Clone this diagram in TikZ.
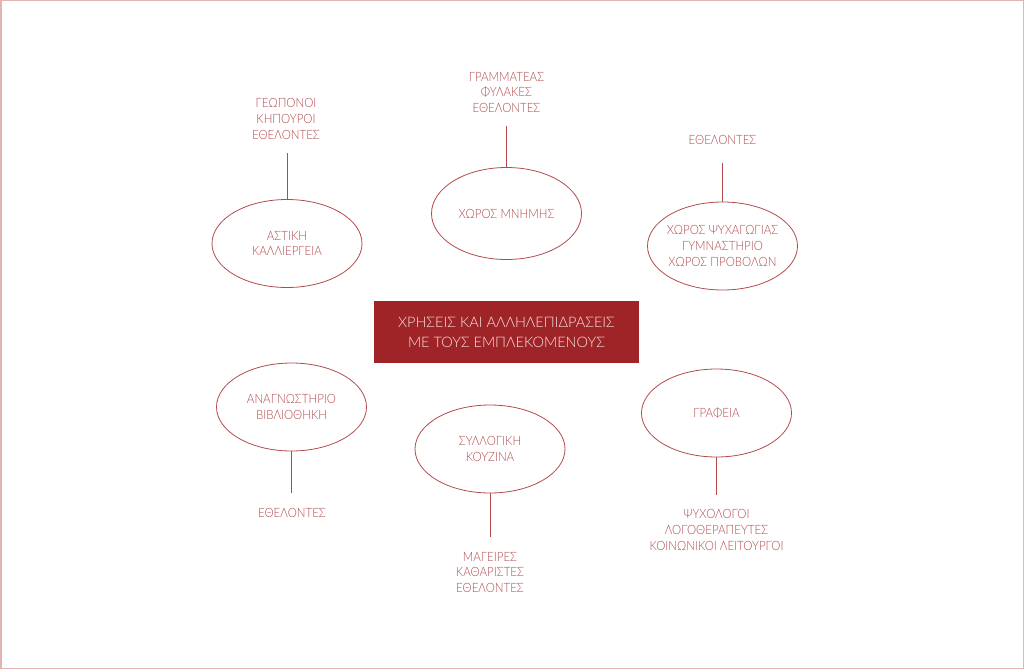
\documentclass[tikz,border=0pt]{standalone}
\usepackage{fontspec}
\setmainfont{Lato Light}[FakeStretch=0.9]
\newfontfamily\boxfont{Lato Light}
\usetikzlibrary{shapes.geometric}
\definecolor{ink}{HTML}{B24A4C}
\definecolor{boxred}{HTML}{9E2427}
\definecolor{frame}{HTML}{E2B4B4}
\definecolor{boxtext}{HTML}{F6E2E2}
\tikzset{
  ell/.style={draw=ink, line width=0.8pt, ellipse, minimum width=150pt, minimum height=88pt, inner sep=0pt},
  txt/.style={text=ink, align=center, inner sep=0pt, font=\fontsize{12.8}{15.7}\selectfont},
  conn/.style={draw=ink, line width=0.8pt},
  central/.style={fill=boxred, draw=none, minimum width=265pt, minimum height=62pt, inner sep=0pt,
     text=boxtext, align=center, font=\boxfont\fontsize{14.5}{20}\selectfont}
}
\begin{document}
\begin{tikzpicture}[x=1pt,y=-1pt]
\useasboundingbox (0,0) rectangle (1024,669);
\draw[frame, line width=1.5pt] (0.75,0.75) rectangle (1023.25,668.25);

% central
\node[central] (c) at (506.5,332) {ΧΡΗΣΕΙΣ ΚΑΙ ΑΛΛΗΛΕΠΙΔΡΑΣΕΙΣ\\ΜΕ ΤΟΥΣ ΕΜΠΛΕΚΟΜΕΝΟΥΣ};

% 1 urban farming
\node[ell] (e1) at (287,243.5) {};
\node[txt] (t1) at (e1) {ΑΣΤΙΚΗ\\ΚΑΛΛΙΕΡΓΕΙΑ};
\node[txt] (l1) at (286,119) {ΓΕΩΠΟΝΟΙ\\ΚΗΠΟΥΡΟΙ\\ΕΘΕΛΟΝΤΕΣ};
\coordinate (p1) at (287,153);
\draw[conn] (e1.north) -- (p1);

% 2 memory space
\node[ell, minimum height=92pt] (e2) at (506.5,213.5) {};
\node[txt] (t2) at (e2) {ΧΩΡΟΣ ΜΝΗΜΗΣ};
\node[txt] (l2) at (506.5,92.5) {ΓΡΑΜΜΑΤΕΑΣ\\ΦΥΛΑΚΕΣ\\ΕΘΕΛΟΝΤΕΣ};
\coordinate (p2) at (506.5,126);
\draw[conn] (e2.north) -- (p2);

% 3 recreation
\node[ell] (e3) at (722.5,246) {};
\node[txt] (t3) at (e3) {ΧΩΡΟΣ ΨΥΧΑΓΩΓΙΑΣ\\ΓΥΜΝΑΣΤΗΡΙΟ\\ΧΩΡΟΣ ΠΡΟΒΟΛΩΝ};
\node[txt] (l3) at (722.5,140) {ΕΘΕΛΟΝΤΕΣ};
\coordinate (p3) at (722.5,163);
\draw[conn] (e3.north) -- (p3);

% 4 reading room
\node[ell] (e4) at (291.5,407) {};
\node[txt] (t4) at (e4) {ΑΝΑΓΝΩΣΤΗΡΙΟ\\ΒΙΒΛΙΟΘΗΚΗ};
\node[txt] (l4) at (292,513) {ΕΘΕΛΟΝΤΕΣ};
\coordinate (p4) at (291.5,493);
\draw[conn] (e4.south) -- (p4);

% 5 kitchen
\node[ell] (e5) at (490,449) {};
\node[txt] (t5) at (e5) {ΣΥΛΛΟΓΙΚΗ\\ΚΟΥΖΙΝΑ};
\node[txt] (l5) at (490,572.5) {ΜΑΓΕΙΡΕΣ\\ΚΑΘΑΡΙΣΤΕΣ\\ΕΘΕΛΟΝΤΕΣ};
\coordinate (p5) at (490,537);
\draw[conn] (e5.south) -- (p5);

% 6 offices
\node[ell] (e6) at (716.5,413) {};
\node[txt] (t6) at (e6) {ΓΡΑΦΕΙΑ};
\node[txt] (l6) at (716.5,530) {ΨΥΧΟΛΟΓΟΙ\\ΛΟΓΟΘΕΡΑΠΕΥΤΕΣ\\ΚΟΙΝΩΝΙΚΟΙ ΛΕΙΤΟΥΡΓΟΙ};
\coordinate (p6) at (716.5,495);
\draw[conn] (e6.south) -- (p6);
\end{tikzpicture}
\end{document}
